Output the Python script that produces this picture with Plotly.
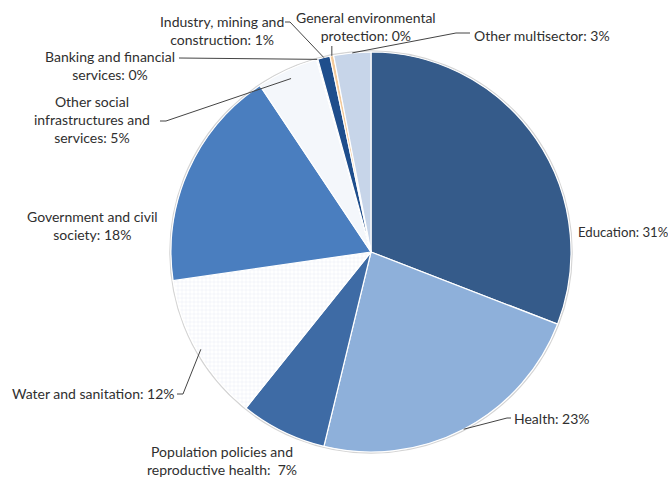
import math
import plotly.graph_objects as go

# Aid allocation by sector (share of total, %)
sectors = [
    "Education",
    "Health",
    "Population policies and<br>reproductive health",
    "Water and sanitation",
    "Government and civil<br>society",
    "Other social<br>infrastructures and<br>services",
    "Banking and financial<br>services",
    "Industry, mining and<br>construction",
    "General environmental<br>protection",
    "Other multisector",
]
shares = [31, 23, 7, 12, 18, 5, 0.1, 1, 0.3, 3]
label_texts = [
    "Education: 31%",
    "Health: 23%",
    "Population policies and<br>reproductive health:  7%",
    "Water and sanitation: 12%",
    "Government and civil<br>society: 18%",
    "Other social<br>infrastructures and<br>services: 5%",
    "Banking and financial<br>services: 0%",
    "Industry, mining and<br>construction: 1%",
    "General environmental<br>protection: 0%",
    "Other multisector: 3%",
]
slice_colors = [
    "#355b8a", "#8eb0da", "#3e6ba5", "#dde7f3", "#4a7ebf",
    "#f4f7fb", "#e9eef5", "#1f4e8c", "#f3c99a", "#c7d5e9",
]

W, H = 668, 478
CX, CY, R = 371, 252, 200  # pie centre and radius in pixels


def px(x, y):
    """Pixel position -> paper coordinates."""
    return x / W, 1 - y / H


def edge_point(i, frac=1.0, where=0.5):
    """Point on slice i (clockwise from 12 o'clock) at a fraction of the radius."""
    total = sum(shares)
    start = sum(shares[:i])
    ang = 2 * math.pi * (start + where * shares[i]) / total
    return CX + frac * R * math.sin(ang), CY - frac * R * math.cos(ang)


fig = go.Figure()
fig.add_trace(go.Pie(
    labels=sectors,
    values=shares,
    sort=False,
    direction="clockwise",
    rotation=0,
    textinfo="none",
    marker=dict(
        colors=slice_colors,
        line=dict(color="white", width=1.2),
        pattern=dict(
            shape=["", "", "", "+", "", "", "", "", "", ""],
            fgcolor="#d2deec",
            size=4,
            solidity=0.12,
        ),
    ),
    domain=dict(x=[(CX - R) / W, (CX + R) / W],
                y=[(H - CY - R) / H, (H - CY + R) / H]),
    showlegend=False,
    hovertemplate="%{label}: %{value}%<extra></extra>",
))

# Label placement: (x, y, xanchor, font size) in pixels
label_pos = [
    (576, 232, "left", 13.2),
    (512, 418, "left", 14),
    (222, 460, "center", 14),
    (177, 393, "right", 14),
    (92, 225, "center", 14),
    (92, 119, "center", 14),
    (110, 66, "center", 14),
    (222, 31, "center", 14),
    (366, 27, "center", 14),
    (472, 35, "left", 14),
]

annotations = []
for txt, (x, y, xa, fs) in zip(label_texts, label_pos):
    ax, ay = px(x, y)
    annotations.append(dict(
        x=ax, y=ay, xref="paper", yref="paper", text=txt,
        showarrow=False, xanchor=xa, yanchor="middle", align="center",
        font=dict(family="Lato, 'Open Sans', sans-serif", size=fs,
                  color="#2f2f2f"),
    ))

# Leader lines: fixed elbow points out to the slice edge
leaders = {
    1: ([(511, 418), (507, 418)], 1.0, 0.5),
    3: ([(177, 394), (183, 394)], 0.98, 0.5),
    5: ([(160, 121), (166, 121)], 0.955, 0.5),
    6: ([(179, 58)], 1.0, 0.5),
    7: ([(285, 22), (290, 22)], 1.0, 0.5),
    9: ([(470, 33), (456, 33)], 1.0, 0.5),
}
shapes = []
for i, (pts, frac, where) in leaders.items():
    ex, ey = edge_point(i, frac, where)
    path_pts = [px(*p) for p in pts] + [px(ex, ey)]
    d = "M " + " L ".join(f"{a:.5f},{b:.5f}" for a, b in path_pts)
    shapes.append(dict(type="path", path=d, xref="paper", yref="paper",
                       line=dict(color="#444444", width=1), layer="above"))

# General environmental protection: short vertical tick to its sliver
gx, gy = edge_point(8, 1.0, 0.5)
x0, y0 = px(gx, 46)
x1, y1 = px(gx, gy)
shapes.append(dict(type="line", x0=x0, y0=y0, x1=x1, y1=y1,
                   xref="paper", yref="paper",
                   line=dict(color="#444444", width=1), layer="above"))

# Soft grey rim around the pie
rx0, ry0 = px(CX - R - 1, CY - R - 1)
rx1, ry1 = px(CX + R + 1, CY + R + 1)
shapes.append(dict(type="circle", x0=rx0, y0=ry1, x1=rx1, y1=ry0,
                   xref="paper", yref="paper",
                   line=dict(color="#d4d4d4", width=1.5), layer="below"))

fig.update_layout(
    width=W, height=H,
    margin=dict(l=0, r=0, t=0, b=0),
    paper_bgcolor="white",
    plot_bgcolor="white",
    annotations=annotations,
    shapes=shapes,
    xaxis=dict(visible=False),
    yaxis=dict(visible=False),
)

fig.write_html("out.html")
